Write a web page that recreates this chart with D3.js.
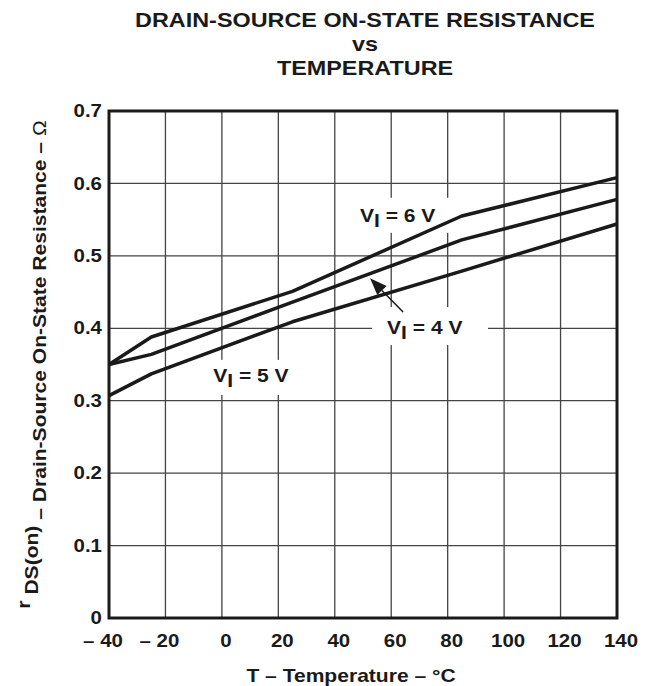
<!DOCTYPE html>
<html>
<head>
<meta charset="utf-8">
<script src="https://cdn.jsdelivr.net/npm/d3@7"></script>
<style>
  body { margin: 0; background: #fff; }
  svg text { font-family: "Liberation Sans", Arial, sans-serif; font-weight: bold; fill: #1a1a1a; }
</style>
</head>
<body>
<svg id="chart" width="652" height="686"></svg>
<script>
// data
const temps = [-40, -25, 25, 85, 140];
const rds6V = [0.350, 0.388, 0.451, 0.555, 0.608];
const rds4V = [0.350, 0.364, 0.436, 0.522, 0.578];
const rds5V = [0.307, 0.337, 0.409, 0.479, 0.544];

const xTicks = [-40, -20, 0, 20, 40, 60, 80, 100, 120, 140];
const xTickLabels = ["– 40", "– 20", "0", "20", "40", "60", "80", "100", "120", "140"];
const yTicks = [0, 0.1, 0.2, 0.3, 0.4, 0.5, 0.6, 0.7];
const yTickLabels = ["0", "0.1", "0.2", "0.3", "0.4", "0.5", "0.6", "0.7"];

const series = [
  { name: "6", values: rds6V, label: [48.9, 0.547], box: [-10, -24, 102, 35] },
  { name: "4", values: rds4V, label: [58.5, 0.392], box: [-15, -27, 116, 38] },
  { name: "5", values: rds5V, label: [-3.1, 0.326], box: [-13, -22, 100, 35] },
];
const arrowFrom = [64.2, 0.4225];
const arrowTo = [52.5, 0.469];

const SX = 1.17; // glyphs in the original are wider than Arial
const margin = { top: 111, right: 35, bottom: 68, left: 109 };
const width = 652, height = 686;

const svg = d3.select("#chart");
const x = d3.scaleLinear().domain([-40, 140]).range([margin.left, width - margin.right]);
const y = d3.scaleLinear().domain([0, 0.7]).range([height - margin.bottom, margin.top]);

function placeText(sel, px, py) {
  return sel.attr("transform", `translate(${px},${py}) scale(${SX},1)`);
}

// grid
svg.append("g")
  .selectAll("line")
  .data(xTicks.slice(1, -1))
  .join("line")
  .attr("x1", (d) => x(d)).attr("x2", (d) => x(d))
  .attr("y1", y(0)).attr("y2", y(0.7))
  .attr("stroke", "#444").attr("stroke-width", 1.3);

svg.append("g")
  .selectAll("line")
  .data(yTicks.slice(1, -1))
  .join("line")
  .attr("x1", x(-40)).attr("x2", x(140))
  .attr("y1", (d) => y(d)).attr("y2", (d) => y(d))
  .attr("stroke", "#444").attr("stroke-width", 1.3);

// white boxes behind the curve labels
svg.append("g")
  .selectAll("rect")
  .data(series)
  .join("rect")
  .attr("x", (d) => x(d.label[0]) + d.box[0])
  .attr("y", (d) => y(d.label[1]) + d.box[1])
  .attr("width", (d) => d.box[2])
  .attr("height", (d) => d.box[3])
  .attr("fill", "#fff");

// curves
const line = d3.line()
  .x((d, i) => x(temps[i]))
  .y((d) => y(d));

svg.append("g")
  .selectAll("path")
  .data(series)
  .join("path")
  .attr("d", (d) => line(d.values))
  .attr("fill", "none")
  .attr("stroke", "#1a1a1a")
  .attr("stroke-width", 3.5)
  .attr("stroke-linejoin", "round");

// frame
svg.append("rect")
  .attr("x", x(-40)).attr("y", y(0.7))
  .attr("width", x(140) - x(-40)).attr("height", y(0) - y(0.7))
  .attr("fill", "none").attr("stroke", "#1a1a1a").attr("stroke-width", 3);

// arrow to the 4 V curve
const ax0 = x(arrowFrom[0]), ay0 = y(arrowFrom[1]);
const ax1 = x(arrowTo[0]), ay1 = y(arrowTo[1]);
const len = Math.hypot(ax1 - ax0, ay1 - ay0);
const ux = (ax1 - ax0) / len, uy = (ay1 - ay0) / len;
const headL = 17, headW = 6.5;
const bx = ax1 - ux * headL, by = ay1 - uy * headL;
svg.append("line")
  .attr("x1", ax0).attr("y1", ay0).attr("x2", bx).attr("y2", by)
  .attr("stroke", "#1a1a1a").attr("stroke-width", 1.5);
svg.append("path")
  .attr("d", `M${ax1},${ay1}L${bx - uy * headW},${by + ux * headW}L${bx + uy * headW},${by - ux * headW}Z`)
  .attr("fill", "#1a1a1a");

// curve labels
series.forEach((s) => {
  const t = placeText(svg.append("text"), x(s.label[0]), y(s.label[1]))
    .style("font-size", "18px");
  t.append("tspan").text("V");
  t.append("tspan").attr("dy", 5).text("I");
  t.append("tspan").attr("dy", -5).text(` = ${s.name} V`);
});

// tick labels
svg.append("g")
  .selectAll("text")
  .data(yTicks)
  .join("text")
  .each(function (d, i) {
    placeText(d3.select(this), x(-40) - 7, y(d));
  })
  .attr("text-anchor", "end")
  .attr("dy", "0.35em")
  .style("font-size", "17.5px")
  .text((d, i) => yTickLabels[i]);

svg.append("g")
  .selectAll("text")
  .data(xTicks)
  .join("text")
  .each(function (d, i) {
    // negative labels carry a dash, so they sit a bit left
    placeText(d3.select(this), x(d) + (d < 0 ? -6 : 4), 647);
  })
  .attr("text-anchor", "middle")
  .style("font-size", "17.5px")
  .text((d, i) => xTickLabels[i]);

// axis titles
placeText(svg.append("text"), 351, 682)
  .attr("text-anchor", "middle")
  .style("font-size", "18px")
  .text("T – Temperature – °C");

const yl = svg.append("text")
  .attr("transform", `translate(46,${(y(0) + y(0.7)) / 2}) rotate(-90) scale(${SX},1)`)
  .attr("text-anchor", "middle")
  .style("font-size", "18px");
yl.append("tspan").attr("dy", -16).text("r");
yl.append("tspan").attr("dy", 8).text(" DS(on)");
yl.append("tspan").attr("dy", 8).text("  – Drain-Source On-State Resistance – ");
yl.append("tspan").style("font-weight", "normal").text("Ω");

// title
const titleLines = ["DRAIN-SOURCE ON-STATE RESISTANCE", "vs", "TEMPERATURE"];
titleLines.forEach((t, i) => {
  placeText(svg.append("text"), 365, 27 + i * 24)
    .attr("text-anchor", "middle")
    .style("font-size", "20px")
    .text(t);
});
</script>
</body>
</html>
